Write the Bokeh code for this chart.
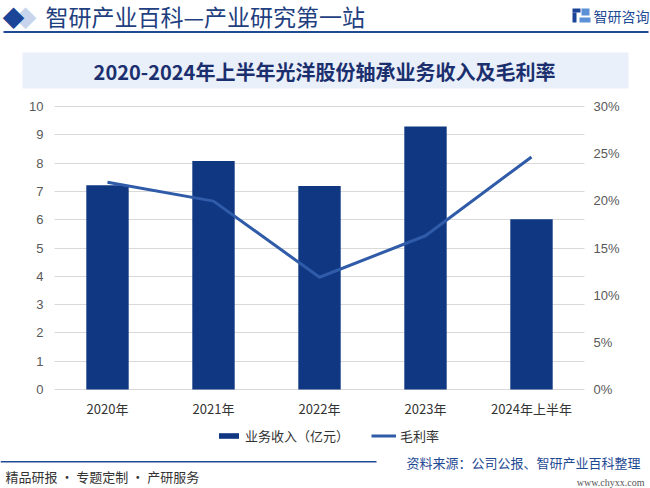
from bokeh.plotting import figure
from bokeh.models import (Range1d, LinearAxis, FixedTicker, NumeralTickFormatter, Label,
                          BoxAnnotation, Legend, LegendItem, ColumnDataSource, Grid)
from bokeh.embed import file_html
from bokeh.resources import INLINE

categories = ["2020年", "2021年", "2022年", "2023年", "2024年上半年"]
revenue = [7.22, 8.07, 7.19, 9.29, 6.02]                  # 业务收入（亿元）
gross_margin = [0.2196, 0.1997, 0.1190, 0.1630, 0.2465]   # 毛利率
revenue_ticks = [0, 1, 2, 3, 4, 5, 6, 7, 8, 9, 10]
margin_ticks = [0, 0.05, 0.10, 0.15, 0.20, 0.25, 0.30]

header_text = "智研产业百科—产业研究第一站"
title_text = "2020-2024年上半年光洋股份轴承业务收入及毛利率"
brand_text = "智研咨询"
source_text = "资料来源：公司公报、智研产业百科整理"
footer_left = "精品研报 · 专题定制 · 产研服务"
site_text = "www.chyxx.com"
bar_label = "业务收入（亿元）"
line_label = "毛利率"

CJK = "Noto Sans CJK SC"
NAVY = "#0f3782"
LINE_BLUE = "#2f5ba9"
BRAND_BLUE = "#1f4a94"

W, H = 650, 488
# plot area in page pixels
FL, FR, FT, FB = 54, 584, 106, 389
n = len(categories)
idx = list(range(n))

ymax, pmax = revenue_ticks[-1], margin_ticks[-1]
xu = (FR - FL) / n                 # px per category
yu = (FB - FT) / ymax              # px per revenue unit
pu = (FB - FT) / pmax              # px per margin unit

src = ColumnDataSource(dict(x=idx, rev=revenue, gm=gross_margin))

p = figure(width=W, height=H,
           x_range=Range1d(-0.5 - FL / xu, n - 0.5 + (W - FR) / xu),
           y_range=Range1d(-(H - FB) / yu, ymax + FT / yu),
           output_backend="svg", toolbar_location=None,
           x_axis_location=None, y_axis_location=None,
           min_border_left=0, min_border_right=0, min_border_top=0, min_border_bottom=0)
p.outline_line_color = None
p.background_fill_color = "white"
p.border_fill_color = "white"
p.grid.visible = False

p.extra_y_ranges = {"pct": Range1d(-(H - FB) / pu, pmax + FT / pu),
                    "py": Range1d(start=H, end=0)}
p.extra_x_ranges = {"px": Range1d(start=0, end=W)}

# axes (fixed inside the canvas)
left = LinearAxis(ticker=FixedTicker(ticks=revenue_ticks), fixed_location=-0.5,
                  bounds=(0, ymax))
right = LinearAxis(y_range_name="pct", ticker=FixedTicker(ticks=margin_ticks),
                   formatter=NumeralTickFormatter(format="0%"), fixed_location=n - 0.5,
                   bounds=(0, pmax))
bottom = LinearAxis(ticker=FixedTicker(ticks=idx), fixed_location=0,
                    major_label_overrides={i: c for i, c in zip(idx, categories)})
for ax in (left, right, bottom):
    ax.axis_line_color = None
    ax.major_tick_line_color = None
    ax.minor_tick_line_color = None
    ax.major_tick_out = 0
    ax.major_tick_in = 0
for ax in (left, right):
    ax.major_label_text_font = "Liberation Sans"
    ax.major_label_text_font_size = "13px"
    ax.major_label_text_color = "#595959"
left.major_label_standoff = 11
right.major_label_standoff = 9
bottom.major_label_text_font = CJK
bottom.major_label_text_font_size = "13px"
bottom.major_label_text_color = "#333333"
bottom.major_label_standoff = 9
p.add_layout(left, "left")
p.add_layout(right, "right")
p.add_layout(bottom, "below")

# horizontal grid limited to the plot area
if "cross_bounds" in Grid.properties():
    g = Grid(dimension=1, ticker=left.ticker, bounds=(0, ymax),
             cross_bounds=(-0.5, n - 0.5), grid_line_color="#d9d9d9")
    p.add_layout(g)
else:
    p.segment(x0=[-0.5] * len(revenue_ticks), x1=[n - 0.5] * len(revenue_ticks),
              y0=revenue_ticks, y1=revenue_ticks, line_color="#d9d9d9", line_width=1)

bars = p.vbar(x="x", top="rev", width=0.4, source=src, color=NAVY, line_color=None)
ln = p.line(x="x", y="gm", source=src, y_range_name="pct", line_color=LINE_BLUE,
            line_width=3)

legend = Legend(items=[LegendItem(label=bar_label, renderers=[bars]),
                       LegendItem(label=line_label, renderers=[ln])],
                orientation="horizontal", location=(216, H - 445),
                glyph_width=25, glyph_height=7, label_standoff=4, spacing=22,
                padding=0, margin=0, border_line_color=None, background_fill_alpha=0,
                label_text_font=CJK, label_text_font_size="13px",
                label_text_color="#333333", label_height=20)
p.add_layout(legend, "center")


def box(l, r, t, b, color):
    p.add_layout(BoxAnnotation(left=l, right=r, top=t, bottom=b, x_range_name="px",
                               y_range_name="py", fill_color=color, fill_alpha=1,
                               line_color=None, level="underlay"))


def label(x, y, text, size, color, align="left", font=CJK, style="normal"):
    p.add_layout(Label(x=x, y=y, text=text, x_range_name="px", y_range_name="py",
                       text_font=font, text_font_size=f"{size}px", text_color=color,
                       text_align=align, text_baseline="middle", text_font_style=style))


# title band
box(22, 628, 52, 88, "#e9f0fa")
label(324, 71, title_text, 20, "#1b2f6e", align="center", style="bold")

# header
box(3, 648, 30.5, 32.5, BRAND_BLUE)
label(25, 15, "◆", 22, "#c7d4eb", align="center")
label(13, 15, "◆", 22, "#1d4597", align="center")
label(45, 15, header_text, 23, "#1f3f80")
# brand logo
box(572, 580, 8, 12, "#1d4597")
box(572, 576, 12, 22, "#1d4597")
box(581, 589, 8, 15, "#5b8fd6")
box(579, 590, 17, 22, "#5b8fd6")
label(593, 15, brand_text, 14, BRAND_BLUE)

# footer
box(0, 376, 460.5, 462, BRAND_BLUE)
label(406, 462, source_text, 13, BRAND_BLUE)
label(5, 476, footer_left, 13, "#333333")
label(644, 482, site_text, 10, "#555555", align="right", font="Liberation Serif")

open("out.html", "w").write(file_html(p, INLINE))
